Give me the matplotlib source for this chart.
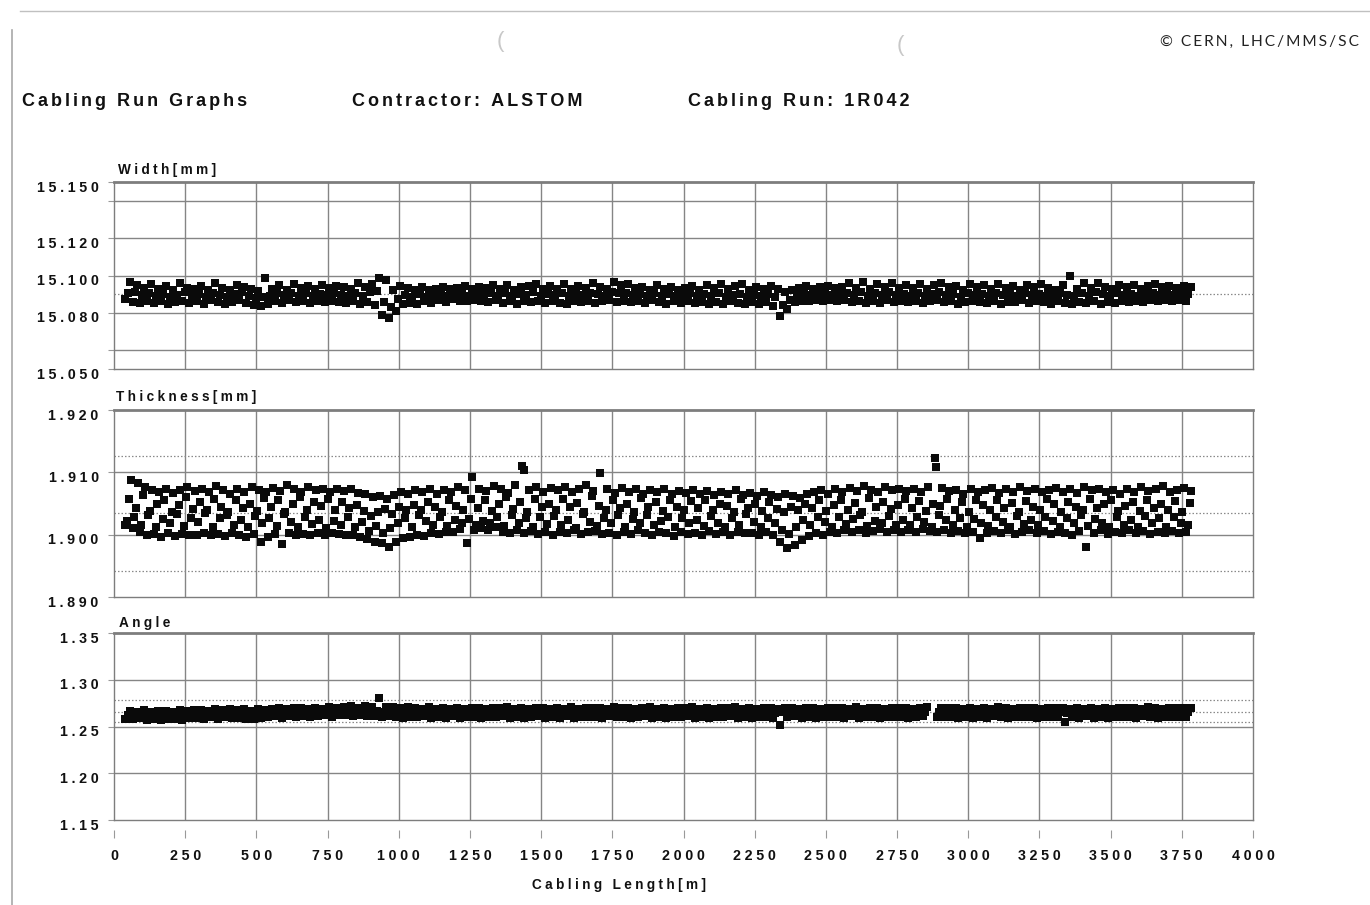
import numpy as np
import matplotlib
matplotlib.use("Agg")
import matplotlib.pyplot as plt
import matplotlib.transforms as mtrans
from matplotlib.lines import Line2D

# ---------------- data ----------------
LENGTH_START, LENGTH_STOP, LENGTH_STEP = 40, 3790, 25   # cabling length sample positions [m]

WIDTH_LOW = [
    15.0872, 15.0860, 15.0855, 15.0866, 15.0851, 15.0862, 15.0848, 15.0858, 15.0865, 15.0853,
    15.0861, 15.0850, 15.0867, 15.0857, 15.0846, 15.0859, 15.0868, 15.0852, 15.0842, 15.0838,
    15.0850, 15.0863, 15.0855, 15.0868, 15.0858, 15.0866, 15.0854, 15.0862, 15.0857, 15.0865,
    15.0859, 15.0852, 15.0864, 15.0849, 15.0856, 15.0843, 15.0790, 15.0775, 15.0812, 15.0848,
    15.0855, 15.0848, 15.0862, 15.0853, 15.0867, 15.0860, 15.0872, 15.0866, 15.0861, 15.0870,
    15.0864, 15.0858, 15.0869, 15.0855, 15.0862, 15.0850, 15.0866, 15.0857, 15.0863, 15.0852,
    15.0861, 15.0855, 15.0848, 15.0866, 15.0858, 15.0864, 15.0853, 15.0862, 15.0870, 15.0859,
    15.0865, 15.0857, 15.0862, 15.0851, 15.0868, 15.0856, 15.0849, 15.0861, 15.0854, 15.0863,
    15.0852, 15.0860, 15.0846, 15.0857, 15.0849, 15.0862, 15.0853, 15.0845, 15.0858, 15.0850,
    15.0856, 15.0838, 15.0782, 15.0822, 15.0858, 15.0866, 15.0861, 15.0870, 15.0864, 15.0868,
    15.0862, 15.0870, 15.0858, 15.0866, 15.0855, 15.0864, 15.0852, 15.0867, 15.0859, 15.0863,
    15.0857, 15.0865, 15.0851, 15.0861, 15.0868, 15.0856, 15.0863, 15.0848, 15.0859, 15.0866,
    15.0858, 15.0852, 15.0864, 15.0849, 15.0860, 15.0856, 15.0867, 15.0853, 15.0862, 15.0857,
    15.0850, 15.0863, 15.0855, 15.0846, 15.0860, 15.0852, 15.0865, 15.0849, 15.0858, 15.0854,
    15.0861, 15.0856, 15.0866, 15.0859, 15.0868, 15.0862, 15.0870, 15.0864, 15.0867, 15.0865,
]
WIDTH_MID = [
    15.0905, 15.0912, 15.0895, 15.0908, 15.0890, 15.0902, 15.0884, 15.0898, 15.0910, 15.0893,
    15.0900, 15.0887, 15.0906, 15.0894, 15.0883, 15.0899, 15.0911, 15.0889, 15.0878, 15.0885,
    15.0891, 15.0904, 15.0897, 15.0909, 15.0893, 15.0906, 15.0888, 15.0901, 15.0895, 15.0908,
    15.0897, 15.0889, 15.0905, 15.0892, 15.0910, 15.0918, 15.0860, 15.0830, 15.0873, 15.0895,
    15.0887, 15.0899, 15.0884, 15.0896, 15.0903, 15.0891, 15.0899, 15.0905, 15.0893, 15.0902,
    15.0898, 15.0907, 15.0892, 15.0904, 15.0888, 15.0901, 15.0896, 15.0910, 15.0890, 15.0903,
    15.0895, 15.0906, 15.0889, 15.0902, 15.0894, 15.0908, 15.0899, 15.0891, 15.0912, 15.0904,
    15.0909, 15.0895, 15.0903, 15.0888, 15.0906, 15.0893, 15.0900, 15.0890, 15.0897, 15.0905,
    15.0888, 15.0901, 15.0893, 15.0906, 15.0886, 15.0898, 15.0903, 15.0884, 15.0895, 15.0891,
    15.0899, 15.0885, 15.0840, 15.0870, 15.0896, 15.0901, 15.0894, 15.0899, 15.0903, 15.0898,
    15.0901, 15.0907, 15.0896, 15.0910, 15.0893, 15.0905, 15.0898, 15.0912, 15.0895, 15.0903,
    15.0893, 15.0906, 15.0889, 15.0902, 15.0910, 15.0895, 15.0900, 15.0887, 15.0904, 15.0896,
    15.0903, 15.0891, 15.0908, 15.0895, 15.0900, 15.0889, 15.0906, 15.0897, 15.0902, 15.0893,
    15.0890, 15.0904, 15.0896, 15.0888, 15.0907, 15.0893, 15.0911, 15.0899, 15.0892, 15.0905,
    15.0897, 15.0903, 15.0893, 15.0900, 15.0906, 15.0898, 15.0904, 15.0896, 15.0902, 15.0899,
]
WIDTH_HIGH = [
    15.0965, 15.0948, 15.0932, 15.0955, 15.0928, 15.0942, 15.0921, 15.0960, 15.0935, 15.0926,
    15.0944, 15.0925, 15.0958, 15.0932, 15.0920, 15.0949, 15.0938, 15.0927, 15.0918, 15.0988,
    15.0930, 15.0947, 15.0922, 15.0953, 15.0935, 15.0943, 15.0926, 15.0950, 15.0931, 15.0945,
    15.0938, 15.0928, 15.0961, 15.0940, 15.0952, 15.0985, 15.0975, 15.0920, 15.0942, 15.0932,
    15.0925, 15.0936, 15.0922, 15.0930, 15.0941, 15.0927, 15.0935, 15.0946, 15.0929, 15.0940,
    15.0933, 15.0948, 15.0927, 15.0951, 15.0924, 15.0938, 15.0945, 15.0956, 15.0929, 15.0942,
    15.0930, 15.0952, 15.0926, 15.0944, 15.0935, 15.0958, 15.0940, 15.0928, 15.0965, 15.0948,
    15.0955, 15.0932, 15.0941, 15.0925, 15.0947, 15.0930, 15.0939, 15.0923, 15.0935, 15.0944,
    15.0924, 15.0950, 15.0931, 15.0956, 15.0927, 15.0946, 15.0952, 15.0922, 15.0940, 15.0929,
    15.0945, 15.0926, 15.0912, 15.0920, 15.0934, 15.0942, 15.0928, 15.0936, 15.0944, 15.0931,
    15.0940, 15.0958, 15.0935, 15.0966, 15.0930, 15.0952, 15.0938, 15.0962, 15.0934, 15.0947,
    15.0932, 15.0955, 15.0926, 15.0949, 15.0960, 15.0936, 15.0944, 15.0925, 15.0953, 15.0938,
    15.0948, 15.0927, 15.0957, 15.0934, 15.0943, 15.0923, 15.0950, 15.0939, 15.0955, 15.0931,
    15.0925, 15.0947, 15.0996, 15.0929, 15.0958, 15.0934, 15.0962, 15.0941, 15.0928, 15.0951,
    15.0936, 15.0949, 15.0927, 15.0942, 15.0953, 15.0938, 15.0946, 15.0931, 15.0944, 15.0937,
]

THICK_LOW = [
    1.9016, 1.9010, 1.9004, 1.8999, 1.9001, 1.8997, 1.9002, 1.8998, 1.9001, 1.9000,
    1.8999, 1.9003, 1.9000, 1.9001, 1.8998, 1.9002, 1.9000, 1.8997, 1.9001, 1.8988,
    1.8996, 1.9001, 1.8985, 1.9002, 1.9000, 1.9001, 1.8999, 1.9003, 1.9000, 1.9002,
    1.9001, 1.8999, 1.9000, 1.8996, 1.8993, 1.8988, 1.8986, 1.8981, 1.8988, 1.8994,
    1.8996, 1.9000, 1.8998, 1.9003, 1.9001, 1.9005, 1.9004, 1.9009, 1.8987, 1.9008,
    1.9010, 1.9007, 1.9012, 1.9005, 1.9002, 1.9008, 1.9003, 1.9006, 1.9001, 1.9004,
    1.9000, 1.9005, 1.9002, 1.9008, 1.9001, 1.9004, 1.9006, 1.9001, 1.9003, 1.9000,
    1.9004, 1.9001, 1.9007, 1.9002, 1.9000, 1.9005, 1.9002, 1.8998, 1.9004, 1.9001,
    1.9003, 1.8999, 1.9006, 1.9001, 1.9004, 1.9000, 1.9005, 1.9002, 1.9003, 1.9000,
    1.9004, 1.9000, 1.8988, 1.8978, 1.8983, 1.8992, 1.8998, 1.9003, 1.9000, 1.9005,
    1.9002, 1.9007, 1.9004, 1.9008, 1.9003, 1.9006, 1.9009, 1.9004, 1.9007, 1.9005,
    1.9008, 1.9005, 1.9009, 1.9006, 1.9004, 1.9007, 1.9002, 1.9006, 1.9003, 1.9005,
    1.8995, 1.9003, 1.9006, 1.9002, 1.9007, 1.9001, 1.9005, 1.9008, 1.9002, 1.9006,
    1.9001, 1.9005, 1.9003, 1.8999, 1.9006, 1.8981, 1.9002, 1.9007, 1.9001, 1.9005,
    1.9003, 1.9007, 1.9002, 1.9006, 1.9001, 1.9005, 1.9003, 1.9006, 1.9002, 1.9004,
]
THICK_MIDLOW = [
    1.9022, 1.9028, 1.9015, 1.9031, 1.9012, 1.9025, 1.9018, 1.9033, 1.9014, 1.9027,
    1.9020, 1.9035, 1.9013, 1.9026, 1.9031, 1.9016, 1.9024, 1.9012, 1.9030, 1.9019,
    1.9027, 1.9014, 1.9033, 1.9021, 1.9012, 1.9029, 1.9017, 1.9024, 1.9011, 1.9022,
    1.9015, 1.9028, 1.9012, 1.9020, 1.9006, 1.9014, 1.9003, 1.9011, 1.9019, 1.9026,
    1.9012, 1.9031, 1.9022, 1.9016, 1.9029, 1.9014, 1.9024, 1.9018, 1.9025, 1.9015,
    1.9022, 1.9018, 1.9028, 1.9014, 1.9031, 1.9019, 1.9026, 1.9012, 1.9029, 1.9017,
    1.9030, 1.9015, 1.9024, 1.9011, 1.9033, 1.9020, 1.9014, 1.9027, 1.9018, 1.9031,
    1.9013, 1.9025, 1.9019, 1.9032, 1.9015, 1.9022, 1.9028, 1.9012, 1.9026, 1.9018,
    1.9024, 1.9014, 1.9030, 1.9019, 1.9012, 1.9027, 1.9016, 1.9033, 1.9021, 1.9013,
    1.9026, 1.9018, 1.9008, 1.9001, 1.9012, 1.9024, 1.9015, 1.9029, 1.9020, 1.9013,
    1.9028, 1.9017, 1.9025, 1.9031, 1.9014, 1.9022, 1.9019, 1.9030, 1.9016, 1.9024,
    1.9015, 1.9029, 1.9020, 1.9013, 1.9032, 1.9024, 1.9016, 1.9027, 1.9012, 1.9025,
    1.9019, 1.9014, 1.9028, 1.9021, 1.9012, 1.9030, 1.9017, 1.9024, 1.9015, 1.9029,
    1.9022, 1.9013, 1.9027, 1.9018, 1.9031, 1.9014, 1.9025, 1.9019, 1.9012, 1.9028,
    1.9016, 1.9024, 1.9013, 1.9030, 1.9019, 1.9026, 1.9012, 1.9028, 1.9018, 1.9015,
]
THICK_MIDHIGH = [
    1.9058, 1.9042, 1.9063, 1.9038, 1.9049, 1.9055, 1.9036, 1.9047, 1.9060, 1.9041,
    1.9052, 1.9039, 1.9058, 1.9045, 1.9036, 1.9056, 1.9043, 1.9050, 1.9038, 1.9059,
    1.9044, 1.9055, 1.9037, 1.9050, 1.9061, 1.9040, 1.9053, 1.9046, 1.9058, 1.9039,
    1.9052, 1.9043, 1.9048, 1.9038, 1.9030, 1.9036, 1.9041, 1.9033, 1.9045, 1.9039,
    1.9048, 1.9040, 1.9053, 1.9044, 1.9037, 1.9056, 1.9046, 1.9039, 1.9058, 1.9042,
    1.9055, 1.9038, 1.9049, 1.9060, 1.9041, 1.9052, 1.9036, 1.9057, 1.9045, 1.9050,
    1.9039, 1.9058, 1.9044, 1.9051, 1.9037, 1.9062, 1.9046, 1.9040, 1.9055, 1.9043,
    1.9050, 1.9037, 1.9059, 1.9045, 1.9052, 1.9038, 1.9056, 1.9044, 1.9040, 1.9054,
    1.9043, 1.9055, 1.9039, 1.9050, 1.9046, 1.9036, 1.9058, 1.9042, 1.9049, 1.9038,
    1.9052, 1.9041, 1.9036, 1.9045, 1.9039, 1.9050, 1.9043, 1.9056, 1.9038, 1.9047,
    1.9055, 1.9040, 1.9051, 1.9037, 1.9059, 1.9044, 1.9053, 1.9041, 1.9048, 1.9057,
    1.9042, 1.9054, 1.9038, 1.9049, 1.9046, 1.9058, 1.9040, 1.9052, 1.9037, 1.9055,
    1.9047, 1.9039, 1.9056, 1.9043, 1.9051, 1.9037, 1.9054, 1.9045, 1.9040, 1.9058,
    1.9050, 1.9036, 1.9053, 1.9044, 1.9039, 1.9057, 1.9042, 1.9049, 1.9055, 1.9038,
    1.9046, 1.9052, 1.9038, 1.9055, 1.9043, 1.9049, 1.9040, 1.9054, 1.9037, 1.9051,
]
THICK_HIGH = [
    1.9088, 1.9083, 1.9076, 1.9072, 1.9069, 1.9074, 1.9067, 1.9071, 1.9076, 1.9070,
    1.9073, 1.9068, 1.9078, 1.9071, 1.9066, 1.9074, 1.9069, 1.9077, 1.9072, 1.9068,
    1.9075, 1.9070, 1.9079, 1.9073, 1.9068, 1.9076, 1.9071, 1.9074, 1.9069, 1.9073,
    1.9070, 1.9074, 1.9067, 1.9065, 1.9060, 1.9062, 1.9058, 1.9064, 1.9068, 1.9066,
    1.9071, 1.9068, 1.9074, 1.9066, 1.9072, 1.9069, 1.9076, 1.9071, 1.9092, 1.9074,
    1.9070, 1.9078, 1.9073, 1.9067, 1.9079, 1.9110, 1.9072, 1.9077, 1.9069, 1.9075,
    1.9071, 1.9076, 1.9068, 1.9074, 1.9079, 1.9070, 1.9099, 1.9073, 1.9067, 1.9075,
    1.9069, 1.9073, 1.9066, 1.9071, 1.9068, 1.9074, 1.9065, 1.9070, 1.9067, 1.9072,
    1.9066, 1.9070, 1.9064, 1.9068, 1.9065, 1.9071, 1.9063, 1.9067, 1.9062, 1.9068,
    1.9064, 1.9060, 1.9066, 1.9062, 1.9059, 1.9065, 1.9068, 1.9071, 1.9066, 1.9073,
    1.9069, 1.9075, 1.9070, 1.9078, 1.9072, 1.9068, 1.9076, 1.9071, 1.9074, 1.9070,
    1.9073, 1.9068, 1.9076, 1.9123, 1.9075, 1.9070, 1.9072, 1.9066, 1.9074, 1.9069,
    1.9071, 1.9075, 1.9067, 1.9073, 1.9069, 1.9077, 1.9070, 1.9074, 1.9068, 1.9072,
    1.9075, 1.9069, 1.9073, 1.9067, 1.9076, 1.9071, 1.9074, 1.9068, 1.9072, 1.9066,
    1.9073, 1.9069, 1.9076, 1.9070, 1.9074, 1.9078, 1.9068, 1.9072, 1.9075, 1.9070,
]
THICK_OUTLIER_LENGTH = [1440, 2885]
THICK_OUTLIER_VALUE = [1.9104, 1.9108]

NAN = float("nan")
ANGLE_LOW = [
    1.2585, 1.2578, 1.2590, 1.2572, 1.2580, 1.2568, 1.2575, 1.2582, 1.2570, 1.2588,
    1.2592, 1.2580, 1.2598, 1.2585, 1.2602, 1.2590, 1.2596, 1.2583, 1.2575, 1.2594,
    1.2600, 1.2612, 1.2595, 1.2608, 1.2603, 1.2615, 1.2598, 1.2610, 1.2622, 1.2605,
    1.2618, 1.2625, 1.2610, 1.2622, 1.2608, 1.2615, 1.2603, 1.2612, 1.2600, 1.2596,
    1.2605, 1.2598, 1.2610, 1.2593, 1.2602, 1.2596, 1.2608, 1.2590, 1.2604, 1.2597,
    1.2592, 1.2605, 1.2598, 1.2610, 1.2594, 1.2602, 1.2588, 1.2600, 1.2607, 1.2595,
    1.2603, 1.2596, 1.2608, 1.2590, 1.2601, 1.2597, 1.2605, 1.2592, 1.2609, 1.2598,
    1.2606, 1.2594, 1.2600, 1.2611, 1.2596, 1.2604, 1.2590, 1.2602, 1.2597, 1.2608,
    1.2595, 1.2603, 1.2591, 1.2606, 1.2598, 1.2610, 1.2593, 1.2600, 1.2588, 1.2604,
    1.2598, 1.2590, 1.2518, 1.2600, 1.2607, 1.2595, 1.2602, 1.2591, 1.2605, 1.2597,
    1.2603, 1.2596, 1.2609, 1.2592, 1.2600, 1.2606, 1.2594, 1.2601, 1.2597, 1.2604,
    1.2593, 1.2600, 1.2607, NAN,    1.2602, 1.2598, 1.2605, 1.2591, 1.2603, 1.2596,
    1.2601, 1.2594, 1.2608, 1.2597, 1.2590, 1.2604, 1.2599, 1.2606, 1.2593, 1.2602,
    1.2597, 1.2604, 1.2550, 1.2600, 1.2593, 1.2607, 1.2596, 1.2602, 1.2590, 1.2605,
    1.2598, 1.2603, 1.2595, 1.2609, 1.2600, 1.2594, 1.2606, 1.2599, 1.2602, 1.2597,
]
ANGLE_MID = [
    1.2625, 1.2618, 1.2632, 1.2610, 1.2628, 1.2615, 1.2622, 1.2635, 1.2612, 1.2626,
    1.2638, 1.2625, 1.2642, 1.2630, 1.2646, 1.2633, 1.2640, 1.2628, 1.2644, 1.2636,
    1.2648, 1.2655, 1.2640, 1.2652, 1.2660, 1.2645, 1.2658, 1.2650, 1.2665, 1.2653,
    1.2668, 1.2675, 1.2660, 1.2672, 1.2664, 1.2670, 1.2658, 1.2666, 1.2655, 1.2662,
    1.2658, 1.2650, 1.2662, 1.2646, 1.2655, 1.2648, 1.2660, 1.2644, 1.2657, 1.2651,
    1.2645, 1.2658, 1.2650, 1.2662, 1.2647, 1.2655, 1.2641, 1.2653, 1.2660, 1.2648,
    1.2656, 1.2649, 1.2661, 1.2643, 1.2654, 1.2650, 1.2658, 1.2645, 1.2662, 1.2651,
    1.2659, 1.2647, 1.2653, 1.2664, 1.2649, 1.2657, 1.2643, 1.2655, 1.2650, 1.2661,
    1.2648, 1.2656, 1.2644, 1.2659, 1.2651, 1.2663, 1.2646, 1.2653, 1.2641, 1.2657,
    1.2651, 1.2643, 1.2655, 1.2660, 1.2647, 1.2658, 1.2652, 1.2644, 1.2657, 1.2650,
    1.2656, 1.2649, 1.2662, 1.2645, 1.2653, 1.2659, 1.2647, 1.2654, 1.2650, 1.2657,
    1.2646, 1.2653, 1.2660, NAN,    1.2655, 1.2651, 1.2658, 1.2644, 1.2656, 1.2649,
    1.2654, 1.2647, 1.2661, 1.2650, 1.2643, 1.2657, 1.2652, 1.2659, 1.2646, 1.2655,
    1.2650, 1.2657, 1.2645, 1.2653, 1.2646, 1.2660, 1.2649, 1.2655, 1.2643, 1.2658,
    1.2651, 1.2656, 1.2648, 1.2662, 1.2653, 1.2647, 1.2659, 1.2652, 1.2655, 1.2650,
]
ANGLE_HIGH = [
    1.2668, 1.2660, 1.2675, 1.2655, 1.2670, 1.2662, 1.2658, 1.2672, 1.2664, 1.2676,
    1.2680, 1.2668, 1.2685, 1.2672, 1.2690, 1.2676, 1.2684, 1.2670, 1.2688, 1.2678,
    1.2690, 1.2698, 1.2684, 1.2695, 1.2702, 1.2688, 1.2700, 1.2692, 1.2708, 1.2696,
    1.2710, 1.2718, 1.2703, 1.2715, 1.2707, 1.2800, 1.2712, 1.2708, 1.2698, 1.2705,
    1.2700, 1.2692, 1.2705, 1.2688, 1.2698, 1.2690, 1.2702, 1.2686, 1.2699, 1.2694,
    1.2688, 1.2700, 1.2693, 1.2705, 1.2690, 1.2698, 1.2684, 1.2696, 1.2703, 1.2691,
    1.2699, 1.2692, 1.2704, 1.2686, 1.2697, 1.2693, 1.2701, 1.2688, 1.2706, 1.2694,
    1.2702, 1.2690, 1.2696, 1.2707, 1.2692, 1.2700, 1.2686, 1.2698, 1.2693, 1.2704,
    1.2691, 1.2699, 1.2687, 1.2702, 1.2694, 1.2706, 1.2689, 1.2696, 1.2684, 1.2700,
    1.2694, 1.2686, 1.2698, 1.2703, 1.2690, 1.2701, 1.2695, 1.2687, 1.2700, 1.2693,
    1.2699, 1.2692, 1.2705, 1.2688, 1.2696, 1.2702, 1.2690, 1.2697, 1.2693, 1.2700,
    1.2689, 1.2696, 1.2712, NAN,    1.2698, 1.2694, 1.2701, 1.2687, 1.2699, 1.2692,
    1.2697, 1.2690, 1.2704, 1.2693, 1.2686, 1.2700, 1.2695, 1.2702, 1.2689, 1.2698,
    1.2693, 1.2700, 1.2688, 1.2696, 1.2689, 1.2703, 1.2692, 1.2698, 1.2686, 1.2701,
    1.2694, 1.2699, 1.2691, 1.2705, 1.2696, 1.2690, 1.2702, 1.2695, 1.2698, 1.2693,
]

# axis definitions
X_TICKS = [0, 250, 500, 750, 1000, 1250, 1500, 1750, 2000, 2250, 2500, 2750, 3000, 3250, 3500, 3750, 4000]
X_GRID = [250, 500, 750, 1000, 1250, 1500, 1750, 2000, 2250, 2500, 2750, 3000, 3250, 3500, 3750]

W_LIM = (15.050, 15.150)
W_TICKS = [15.050, 15.060, 15.080, 15.100, 15.120, 15.140, 15.150]
W_TICKLABELS = ["15.050", "", "15.080", "15.100", "15.120", "", "15.150"]
W_GRID = [15.06, 15.08, 15.10, 15.12, 15.14]
W_REF = [15.090]

T_LIM = (1.890, 1.920)
T_TICKS = [1.890, 1.900, 1.910, 1.920]
T_TICKLABELS = ["1.890", "1.900", "1.910", "1.920"]
T_GRID = [1.900, 1.910]
T_REF = [1.8941, 1.9034, 1.9127]

A_LIM = (1.15, 1.35)
A_TICKS = [1.15, 1.20, 1.25, 1.30, 1.35]
A_TICKLABELS = ["1.15", "1.20", "1.25", "1.30", "1.35"]
A_GRID = [1.20, 1.25, 1.30]
A_REF = [1.255, 1.266, 1.278]

# ---------------- drawing ----------------
W, H = 1370, 905
plt.rcParams["font.family"] = ["Liberation Sans", "DejaVu Sans"]
fig = plt.figure(figsize=(W / 100, H / 100), dpi=100)
fig.patch.set_facecolor("white")

def fx(px):
    return px / W

def fy(py):
    return 1 - py / H

def track(s, sp="\u2005"):
    return sp.join(s)

length = np.arange(LENGTH_START, LENGTH_STOP, LENGTH_STEP)

FRAME = "#7d7d7d"
GRID = "#858585"
DOT = "#8a8a8a"
INK = "#0a0a0a"
TXT = "#111111"

def make_axes(top, bottom):
    return fig.add_axes([fx(114), fy(bottom), (1253 - 114) / W, (bottom - top) / H])

def style(ax, ylim, yticks, ylabels, ygrid, yref):
    ax.set_xlim(0, 4000)
    ax.set_ylim(*ylim)
    for gx in X_GRID:
        ax.axvline(gx, color=GRID, lw=1.0, zorder=1)
    for gy in ygrid:
        ax.axhline(gy, color=GRID, lw=1.0, zorder=1)
    for ry in yref:
        ax.axhline(ry, color=DOT, lw=0.9, ls=(0, (1.2, 1.6)), zorder=1.5)
    for name, sp in ax.spines.items():
        sp.set_color(FRAME)
        sp.set_linewidth(1.0)
    ax.spines["top"].set_linewidth(2.0)
    ax.set_yticks(yticks, [track(l) for l in ylabels], fontweight="bold", fontsize=10.3, color=TXT)
    ax.tick_params(axis="y", direction="out", length=4, width=0.8, color="#999999", pad=7)
    off = mtrans.ScaledTranslation(0, -4 / 100, fig.dpi_scale_trans)
    for lab in ax.get_yticklabels():
        lab.set_transform(lab.get_transform() + off)

def dots(ax, x, y, ms):
    ax.plot(x, y, ls="none", marker="s", ms=ms, mfc=INK, mec=INK, mew=0, zorder=3)

ax1 = make_axes(182, 369)
ax2 = make_axes(410, 597)
ax3 = make_axes(633, 820)

style(ax1, W_LIM, W_TICKS, W_TICKLABELS, W_GRID, W_REF)
style(ax2, T_LIM, T_TICKS, T_TICKLABELS, T_GRID, T_REF)
style(ax3, A_LIM, A_TICKS, A_TICKLABELS, A_GRID, A_REF)

for ax in (ax1, ax2):
    ax.set_xticks([])

for off, ser in zip((0, 8, 16), (WIDTH_LOW, WIDTH_MID, WIDTH_HIGH)):
    dots(ax1, length + off, ser, 5.6)
for off, ser in zip((0, 6, 12, 18), (THICK_LOW, THICK_MIDLOW, THICK_MIDHIGH, THICK_HIGH)):
    dots(ax2, length + off, ser, 5.2)
dots(ax2, THICK_OUTLIER_LENGTH, THICK_OUTLIER_VALUE, 5.2)
for off, ser in zip((0, 8, 16), (ANGLE_LOW, ANGLE_MID, ANGLE_HIGH)):
    dots(ax3, length + off, ser, 5.6)

# bottom axis with detached ticks
ax3.spines["bottom"].set_position(("outward", 7))
ax3.spines["bottom"].set_color("none")
ax3.axhline(A_LIM[0], color=FRAME, lw=1.0, clip_on=False, zorder=2)
ax3.set_xticks(X_TICKS, [track(str(v)) for v in X_TICKS], fontweight="bold", fontsize=10.3, color=TXT)
ax3.tick_params(axis="x", direction="out", length=6, width=0.8, color="#999999", pad=8)

# texts
HEAD_SP = "\u2006"
fig.text(fx(22), fy(102), track("Cabling Run Graphs", HEAD_SP), fontsize=13, fontweight="bold",
         ha="left", va="center", color=TXT)
fig.text(fx(352), fy(102), track("Contractor: ALSTOM", HEAD_SP), fontsize=13, fontweight="bold",
         ha="left", va="center", color=TXT)
fig.text(fx(688), fy(102), track("Cabling Run: 1R042", HEAD_SP), fontsize=13, fontweight="bold",
         ha="left", va="center", color=TXT)
fig.text(fx(1160), fy(42), track("\u00a9 CERN, LHC/MMS/SC", "\u2009"), fontsize=11.2,
         family=["Lato", "DejaVu Sans"], ha="left", va="center", color="#222222")

fig.text(fx(118), fy(170), track("Width[mm]"), fontsize=9.8, fontweight="bold", ha="left", va="center", color=TXT)
fig.text(fx(116), fy(397), track("Thickness[mm]"), fontsize=9.8, fontweight="bold", ha="left", va="center", color=TXT)
fig.text(fx(119), fy(623), track("Angle"), fontsize=9.8, fontweight="bold", ha="left", va="center", color=TXT)
fig.text(fx(619), fy(885), track("Cabling Length[m]"), fontsize=9.8, fontweight="bold", ha="center", va="center", color=TXT)

# scan marks
fig.text(fx(500), fy(42), "(", fontsize=16, color="#c8c8c8", ha="center", va="center")
fig.text(fx(900), fy(46), "(", fontsize=16, color="#c8c8c8", ha="center", va="center")

# page border lines of the scanned sheet
fig.add_artist(Line2D([fx(12), fx(12)], [fy(30), fy(905)], color="#a8a8a8", lw=1.2))
fig.add_artist(Line2D([fx(20), fx(1370)], [fy(11), fy(11)], color="#c0c0c0", lw=1.0))

fig.savefig("out.png", dpi=100, facecolor="white")
